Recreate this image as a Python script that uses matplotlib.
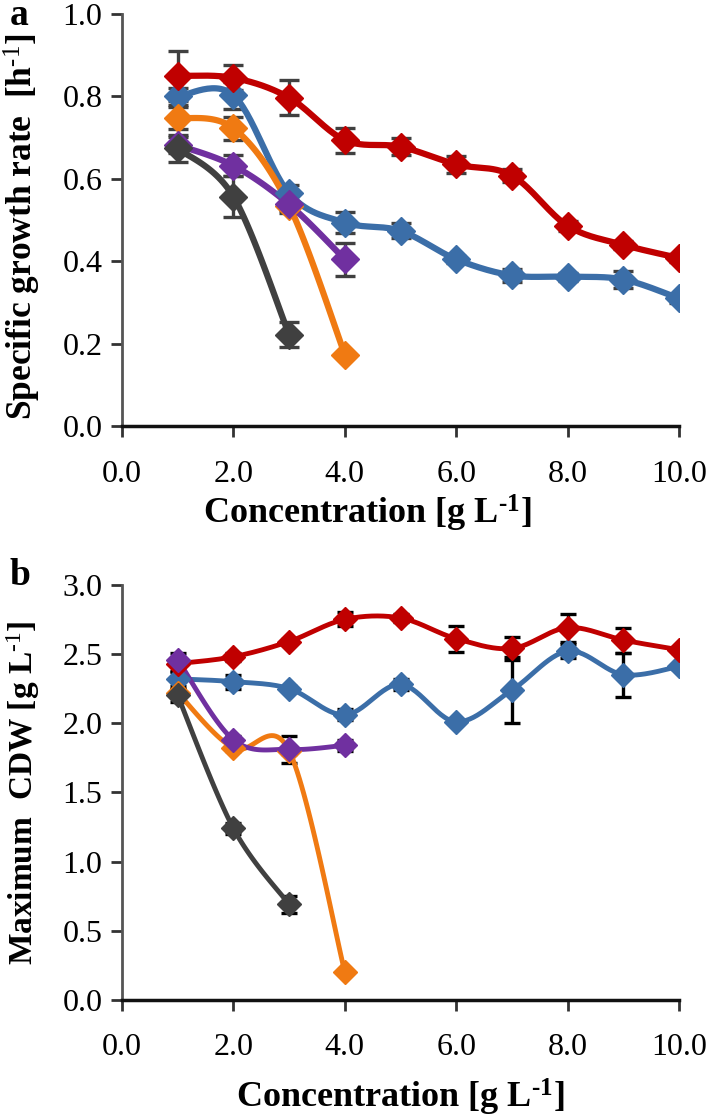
import numpy as np
import matplotlib
matplotlib.use("Agg")
import matplotlib.pyplot as plt

# ---------------- data ----------------
conc_long = [1, 2, 3, 4, 5, 6, 7, 8, 9, 10]
conc_4 = [1, 2, 3, 4]
conc_3 = [1, 2, 3]

# panel a: specific growth rate [h-1]
a_red = [0.85, 0.845, 0.797, 0.694, 0.678, 0.635, 0.608, 0.486, 0.44, 0.408]
a_red_err = [0.06, 0.03, 0.043, 0.03, 0.02, 0.02, 0.015, 0.012, 0.01, 0.01]
a_blue = [0.80, 0.803, 0.565, 0.494, 0.474, 0.405, 0.366, 0.363, 0.356, 0.31]
a_blue_err = [0.02, 0.033, 0.02, 0.025, 0.018, 0.008, 0.015, 0.01, 0.02, 0.01]
a_orange = [0.748, 0.723, 0.535, 0.174]
a_orange_err = [0.026, 0.028, 0.01, 0.0]
a_purple = [0.682, 0.632, 0.538, 0.405]
a_purple_err = [0.02, 0.026, 0.02, 0.04]
a_black = [0.674, 0.557, 0.222]
a_black_err = [0.033, 0.05, 0.03]

# panel b: maximum CDW [g L-1]
b_red = [2.43, 2.48, 2.59, 2.75, 2.76, 2.61, 2.54, 2.69, 2.60, 2.53]
b_red_err = [0.05, 0.03, 0.02, 0.05, 0.03, 0.095, 0.085, 0.10, 0.09, 0.02]
b_blue = [2.32, 2.30, 2.25, 2.06, 2.28, 2.01, 2.24, 2.52, 2.35, 2.41]
b_blue_err = [0.05, 0.05, 0.02, 0.04, 0.04, 0.01, 0.24, 0.05, 0.16, 0.02]
b_orange = [2.22, 1.82, 1.80, 0.20]
b_orange_err = [0.03, 0.02, 0.02, 0.0]
b_purple = [2.46, 1.88, 1.81, 1.84]
b_purple_err = [0.05, 0.03, 0.10, 0.04]
b_black = [2.20, 1.24, 0.69]
b_black_err = [0.05, 0.04, 0.06]

x_ticks = [0, 2, 4, 6, 8, 10]
x_ticklabels = ["0.0", "2.0", "4.0", "6.0", "8.0", "10.0"]
a_yticks = [0.0, 0.2, 0.4, 0.6, 0.8, 1.0]
b_yticks = [0.0, 0.5, 1.0, 1.5, 2.0, 2.5, 3.0]

C_RED = "#C00000"
C_BLUE = "#3B6EA8"
C_ORANGE = "#F07A12"
C_PURPLE = "#7030A0"
C_BLACK = "#404040"

# ---------------- style ----------------
plt.rcParams["font.family"] = ["Liberation Serif", "DejaVu Serif"]
plt.rcParams["mathtext.fontset"] = "custom"
plt.rcParams["mathtext.rm"] = "Liberation Serif"
plt.rcParams["mathtext.it"] = "Liberation Serif:italic"
plt.rcParams["mathtext.bf"] = "Liberation Serif:bold"

HY = "\u2010"  # short hyphen for superscripts


def smooth(x, y, n=30):
    """Excel-like smoothed line (uniform Catmull-Rom through the data points)."""
    x = np.asarray(x, float)
    y = np.asarray(y, float)
    if len(x) < 3:
        return x, y
    px = np.concatenate([[x[0]], x, [x[-1]]])
    py = np.concatenate([[y[0]], y, [y[-1]]])
    xs, ys = [], []
    t = np.linspace(0, 1, n)
    for i in range(1, len(px) - 2):
        p0x, p1x, p2x, p3x = px[i - 1], px[i], px[i + 1], px[i + 2]
        p0y, p1y, p2y, p3y = py[i - 1], py[i], py[i + 1], py[i + 2]
        m1x, m2x = (p2x - p0x) / 2, (p3x - p1x) / 2
        m1y, m2y = (p2y - p0y) / 2, (p3y - p1y) / 2
        h00 = 2 * t**3 - 3 * t**2 + 1
        h10 = t**3 - 2 * t**2 + t
        h01 = -2 * t**3 + 3 * t**2
        h11 = t**3 - t**2
        xs.append(h00 * p1x + h10 * m1x + h01 * p2x + h11 * m2x)
        ys.append(h00 * p1y + h10 * m1y + h01 * p2y + h11 * m2y)
    return np.concatenate(xs), np.concatenate(ys)


fig = plt.figure(figsize=(7.09, 11.16), dpi=100)
ax_a = fig.add_axes([0.172, 0.618, 0.786, 0.3695])
ax_b = fig.add_axes([0.172, 0.104, 0.786, 0.372])

TICK_FS = 23
XLABEL_FS = 26


def draw(ax, series, lw, ms, ecol, ecap):
    for x, y, e, c in series:
        ax.errorbar(x, y, yerr=e, fmt="none", ecolor=ecol, elinewidth=2.4,
                    capsize=ecap, capthick=2.4, zorder=2)
    for x, y, e, c in series:
        sx, sy = smooth(x, y)
        ax.plot(sx, sy, color=c, lw=lw, zorder=3, solid_capstyle="round")
        ax.plot(x, y, ls="none", marker="D", ms=ms, color=c, mec=c, zorder=4)


def style(ax, yticks, ylim, ylabel, ylabel_fs, ylab_y, xlabel, xlab_x, xlab_y):
    ax.set_xlim(0, 10)
    ax.set_ylim(*ylim)
    ax.set_xticks(x_ticks)
    ax.set_xticklabels(x_ticklabels)
    ax.set_yticks(yticks)
    ax.set_yticklabels([f"{v:.1f}" for v in yticks])
    for s in ["top", "right"]:
        ax.spines[s].set_visible(False)
    ax.spines["left"].set_color("#555555")
    ax.spines["left"].set_linewidth(2)
    ax.spines["bottom"].set_color("#111111")
    ax.spines["bottom"].set_linewidth(2.5)
    ax.tick_params(axis="both", direction="out", length=8, width=2,
                   color="#333333", labelsize=TICK_FS, pad=6)
    ax.tick_params(axis="x", pad=16)
    ax.set_ylabel(ylabel, fontsize=ylabel_fs, fontweight="bold", va="center")
    ax.set_xlabel(xlabel, fontsize=XLABEL_FS, fontweight="bold", va="center")
    ax.yaxis.set_label_coords(-0.178, ylab_y)
    ax.xaxis.set_label_coords(xlab_x, xlab_y)


series_a = [
    (conc_long, a_blue, a_blue_err, C_BLUE),
    (conc_long, a_red, a_red_err, C_RED),
    (conc_4, a_orange, a_orange_err, C_ORANGE),
    (conc_4, a_purple, a_purple_err, C_PURPLE),
    (conc_3, a_black, a_black_err, C_BLACK),
]
series_b = [
    (conc_long, b_blue, b_blue_err, C_BLUE),
    (conc_long, b_red, b_red_err, C_RED),
    (conc_4, b_orange, b_orange_err, C_ORANGE),
    (conc_4, b_purple, b_purple_err, C_PURPLE),
    (conc_3, b_black, b_black_err, C_BLACK),
]

draw(ax_a, series_a, lw=4.5, ms=14, ecol="#404040", ecap=7)
draw(ax_b, series_b, lw=3.5, ms=12, ecol="#000000", ecap=6)

xl = "Concentration [g L$^{\\mathbf{" + HY + "1}}$]"
style(ax_a, a_yticks, (0, 1.0), "Specific growth rate  [h$^{" + HY + "1}$]", 25.5, 0.485,
      xl, 0.44, -0.212)
style(ax_b, b_yticks, (0, 3.0), "Maximum  CDW [g L$^{" + HY + "1}$]", 24, 0.5,
      xl, 0.5, -0.235)

fig.text(0.014, 0.986, "a", fontsize=27, fontweight="bold", va="center", ha="left")
fig.text(0.014, 0.484, "b", fontsize=27, fontweight="bold", va="center", ha="left")

fig.savefig("out.png", dpi=100)
